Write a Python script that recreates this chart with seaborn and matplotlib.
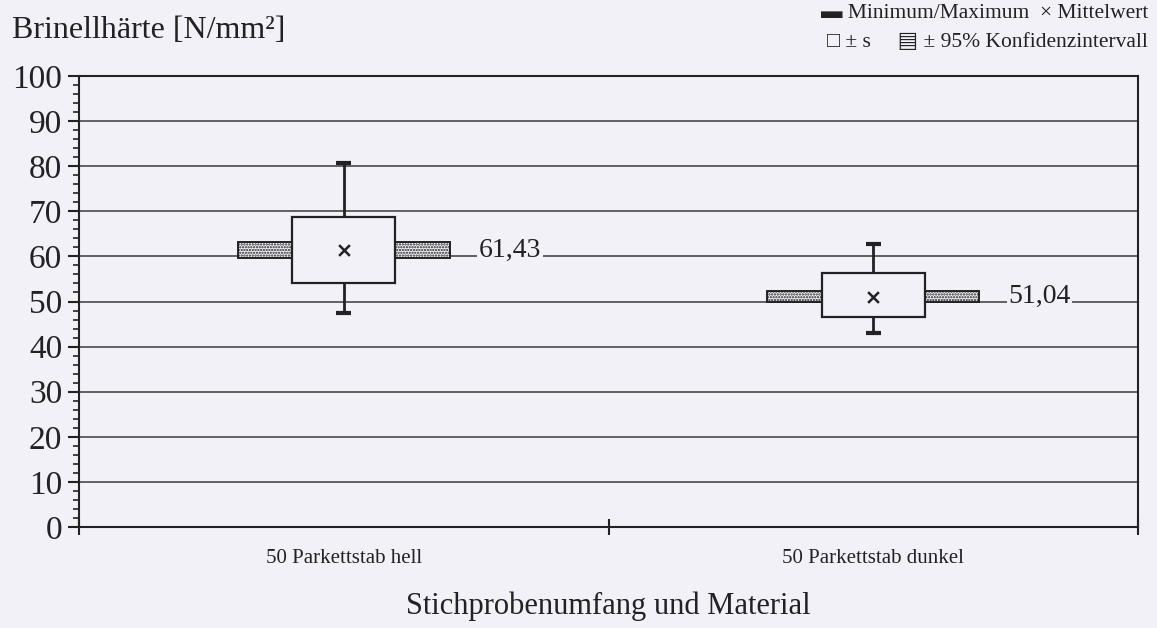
import numpy as np
import pandas as pd
import matplotlib
matplotlib.use('Agg')
import matplotlib.pyplot as plt
import matplotlib.patches as mpatches
from matplotlib.ticker import MultipleLocator, FixedLocator, FixedFormatter, NullFormatter
import seaborn as sns


categories = ['50 Parkettstab hell', '50 Parkettstab dunkel']
mean_values = [61.43, 51.04]
sd_low = [54.1, 46.6]
sd_high = [68.8, 56.3]
ci_low = [59.6, 50.0]
ci_high = [63.3, 52.4]
min_values = [47.4, 43.0]
max_values = [80.7, 62.7]
mean_labels = ['61,43', '51,04']


def erstelle_diagramm():
    df = pd.DataFrame({'pos': np.arange(len(categories)), 'mean': mean_values,
                       'sd_low': sd_low, 'sd_high': sd_high,
                       'ci_low': ci_low, 'ci_high': ci_high,
                       'min': min_values, 'max': max_values, 'label': mean_labels})

    sns.set_theme(style='white')
    plt.rcParams['font.family'] = ['Liberation Serif', 'DejaVu Sans']
    plt.rcParams['hatch.linewidth'] = 1.1

    bg = '#f1f1f7'
    ink = '#222222'
    fig = plt.figure(figsize=(11.57, 6.28), dpi=100, facecolor=bg)
    ax = fig.add_axes([0.0683, 0.1608, 0.9153, 0.7182])
    ax.set_facecolor(bg)

    for i, row in df.iterrows():
        # 95% confidence interval as hatched bar behind the box
        ax.add_patch(mpatches.Rectangle((row['pos'] - 0.2, row['ci_low']), 0.4, row['ci_high'] - row['ci_low'],
                                        facecolor=bg, edgecolor=ink, hatch='......', lw=1.4, zorder=2))
        # min / max whisker
        ax.vlines(row['pos'], row['min'], row['max'], color=ink, lw=2, zorder=2)
        ax.hlines([row['min'], row['max']], row['pos'] - 0.014, row['pos'] + 0.014, color=ink, lw=3, zorder=2)
        # mean +- s box
        ax.add_patch(mpatches.Rectangle((row['pos'] - 0.0975, row['sd_low']), 0.195, row['sd_high'] - row['sd_low'],
                                        facecolor=bg, edgecolor=ink, lw=1.6, zorder=3))
        ax.text(row['pos'] + 0.255, row['mean'], row['label'], fontsize=20, color=ink, va='center', ha='left',
                zorder=3, bbox=dict(facecolor=bg, edgecolor='none', pad=1))

    sns.scatterplot(data=df, x='pos', y='mean', marker='x', color=ink, s=60, linewidth=1.8,
                    zorder=4, ax=ax, legend=False)

    ax.set_xlim(-0.5, 1.5)
    ax.set_ylim(0, 100)
    ax.set_xlabel('')
    ax.set_ylabel('')
    ax.yaxis.set_major_locator(MultipleLocator(10))
    ax.yaxis.set_minor_locator(MultipleLocator(2))
    ax.yaxis.grid(True, which='major', color='#555555', lw=1.3)
    ax.set_axisbelow(True)
    ax.xaxis.set_major_locator(FixedLocator([-0.5, 0.5, 1.5]))
    ax.xaxis.set_major_formatter(NullFormatter())
    ax.xaxis.set_minor_locator(FixedLocator(df['pos']))
    ax.xaxis.set_minor_formatter(FixedFormatter(categories))

    ax.tick_params(axis='y', which='major', direction='out', length=8, width=1.5, labelsize=24, pad=4,
                   color=ink, labelcolor=ink, left=True)
    ax.tick_params(axis='y', which='minor', direction='out', length=4, width=1.2, color=ink, left=True)
    ax.tick_params(axis='x', which='major', direction='inout', length=11, width=1.5, color=ink, bottom=True)
    ax.tick_params(axis='x', which='minor', length=0, labelsize=15, pad=16, labelcolor=ink, bottom=True)
    for spine in ax.spines.values():
        spine.set_color(ink)
        spine.set_linewidth(1.5)

    fig.text(12 / 1157, 1 - 30 / 628, 'Brinellhärte [N/mm²]', fontsize=23, color=ink, ha='left', va='center')
    fig.text(0.5259, 1 - 606 / 628, 'Stichprobenumfang und Material', fontsize=22, color=ink,
             ha='center', va='center')
    fig.text(1148 / 1157, 1 - 14 / 628, '▬ Minimum/Maximum  × Mittelwert', fontsize=15.5, color=ink,
             ha='right', va='center')
    fig.text(1148 / 1157, 1 - 43 / 628, '□ ± s     ▤ ± 95% Konfidenzintervall', fontsize=15.5, color=ink,
             ha='right', va='center')

    fig.savefig('out.png', dpi=100, facecolor=bg)


if __name__ == '__main__':
    erstelle_diagramm()
